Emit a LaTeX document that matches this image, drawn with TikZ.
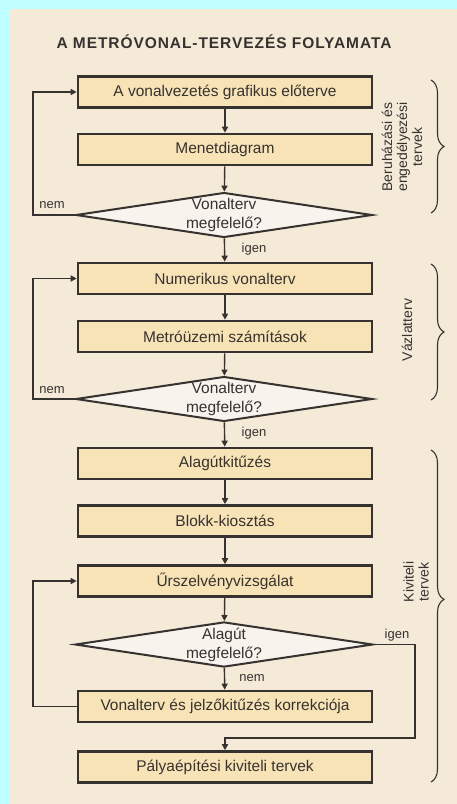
\documentclass[tikz,border=0pt]{standalone}
\usepackage{fontspec}
\setmainfont{Liberation Sans}
\usetikzlibrary{shapes.geometric, graphs, arrows.meta, decorations.pathreplacing}
\definecolor{frameblue}{HTML}{C0FFFF}
\definecolor{pagetan}{HTML}{F4EAD7}
\definecolor{boxtan}{HTML}{F8E3B6}
\definecolor{asktan}{HTML}{F8F3EC}
\definecolor{ink}{HTML}{363230}
\tikzset{stepbox/.style={
    rectangle,
    draw=ink,
    line width=2.6pt,
    fill=boxtan,
    minimum width=294pt,
    minimum height=31pt,
    inner sep=0pt,
    font=\fontsize{15.5}{18}\selectfont
}}
\tikzset{askbox/.style={
    diamond,
    draw=ink,
    line width=2pt,
    fill=asktan,
    aspect=6.6,
    minimum width=292pt,
    minimum height=43pt,
    inner sep=0pt,
    align=center,
    font=\fontsize{15.5}{19}\selectfont
}}
\tikzset{answer/.style={font=\fontsize{13}{15}\selectfont}}
\tikzset{phase/.style={rotate=90, align=center, font=\fontsize{14}{15}\selectfont}}

\begin{document}
\begin{tikzpicture}[
    x=1pt, y=-1pt,
    >={Triangle[length=6pt, width=6pt]}, line width=1.4pt, ink,
    text=ink,
]
    \fill [frameblue] (0,0) rectangle (457,804);
    \fill [pagetan] (10,9) rectangle (457,804);
    \useasboundingbox (0,0) rectangle (457,804);
    \node (title) at (224,42) [font=\fontsize{15.5}{18}\selectfont\bfseries\addfontfeature{LetterSpace=6}] {A METRÓVONAL-TERVEZÉS FOLYAMATA};
    % Beruhazasi tervek
    \node (graf)  at (225,92)    [stepbox] {A vonalvezetés grafikus előterve};
    \node (menet) at (225,149.5) [stepbox] {Menetdiagram};
    \node (ask1)  at (224,215)   [askbox]  {Vonalterv\\megfelelő?};
    % Vazlatterv
    \node (num)   at (225,278.5) [stepbox] {Numerikus vonalterv};
    \node (metro) at (225,336.5) [stepbox] {Metróüzemi számítások};
    \node (ask2)  at (224,399)   [askbox]  {Vonalterv\\megfelelő?};
    % Kiviteli tervek
    \node (alag)  at (225,463.5) [stepbox] {Alagútkitűzés};
    \node (blokk) at (225,521)   [stepbox] {Blokk-kiosztás};
    \node (ursz)  at (225,581)   [stepbox] {Űrszelvényvizsgálat};
    \node (ask3)  at (224,644.5) [askbox]  {Alagút\\megfelelő?};
    \node (korr)  at (225,706.5) [stepbox] {Vonalterv és jelzőkitűzés korrekciója};
    \node (paly)  at (225,767)   [stepbox] {Pályaépítési kiviteli tervek};
    \graph [use existing nodes] {
        graf -> menet -> ask1 -> num -> metro -> ask2 -> alag -> blokk -> ursz -> ask3 -> korr;
    };
    \node (nem1)  at (52,205)  [answer] {nem};
    \node (igen1) at (254,249) [answer] {igen};
    \node (nem2)  at (52,390)  [answer] {nem};
    \node (igen2) at (254,433) [answer] {igen};
    \node (igen3) at (397,635) [answer] {igen};
    \node (nem3)  at (252,678) [answer] {nem};
    \coordinate (backline) at (33,0);
    \coordinate (sideline) at (415,0);
    \coordinate (joinrow)  at (0,738);
    \draw [->] (ask1.west) -- (ask1.west -| backline) |- (graf.west);
    \draw [->] (ask2.west) -- (ask2.west -| backline) |- (num.west);
    \draw [->] (korr.west) -- (korr.west -| backline) |- (ursz.west);
    \draw [->] (ask3.east) -- (ask3.east -| sideline) |- (joinrow -| paly.north) -- (paly.north);
    % braces on the right
    \coordinate (brA1) at (431,80);  \coordinate (brA2) at (431,213);
    \coordinate (brB1) at (431,264); \coordinate (brB2) at (431,400);
    \coordinate (brC1) at (431,450); \coordinate (brC2) at (431,782);
    \draw [decorate, decoration={brace, amplitude=13pt}, line width=1.1pt] (brA1) -- (brA2);
    \draw [decorate, decoration={brace, amplitude=13pt}, line width=1.1pt] (brB1) -- (brB2);
    \draw [decorate, decoration={brace, amplitude=13pt, aspect=0.45}, line width=1.1pt] (brC1) -- (brC2);
    \node (beruh) at (402,147) [phase] {Beruházási és\\engedélyezési\\tervek};
    \node (vazl)  at (407,330) [phase] {Vázlatterv};
    \node (kivit) at (416,582) [phase] {Kiviteli\\tervek};
\end{tikzpicture}
\end{document}
